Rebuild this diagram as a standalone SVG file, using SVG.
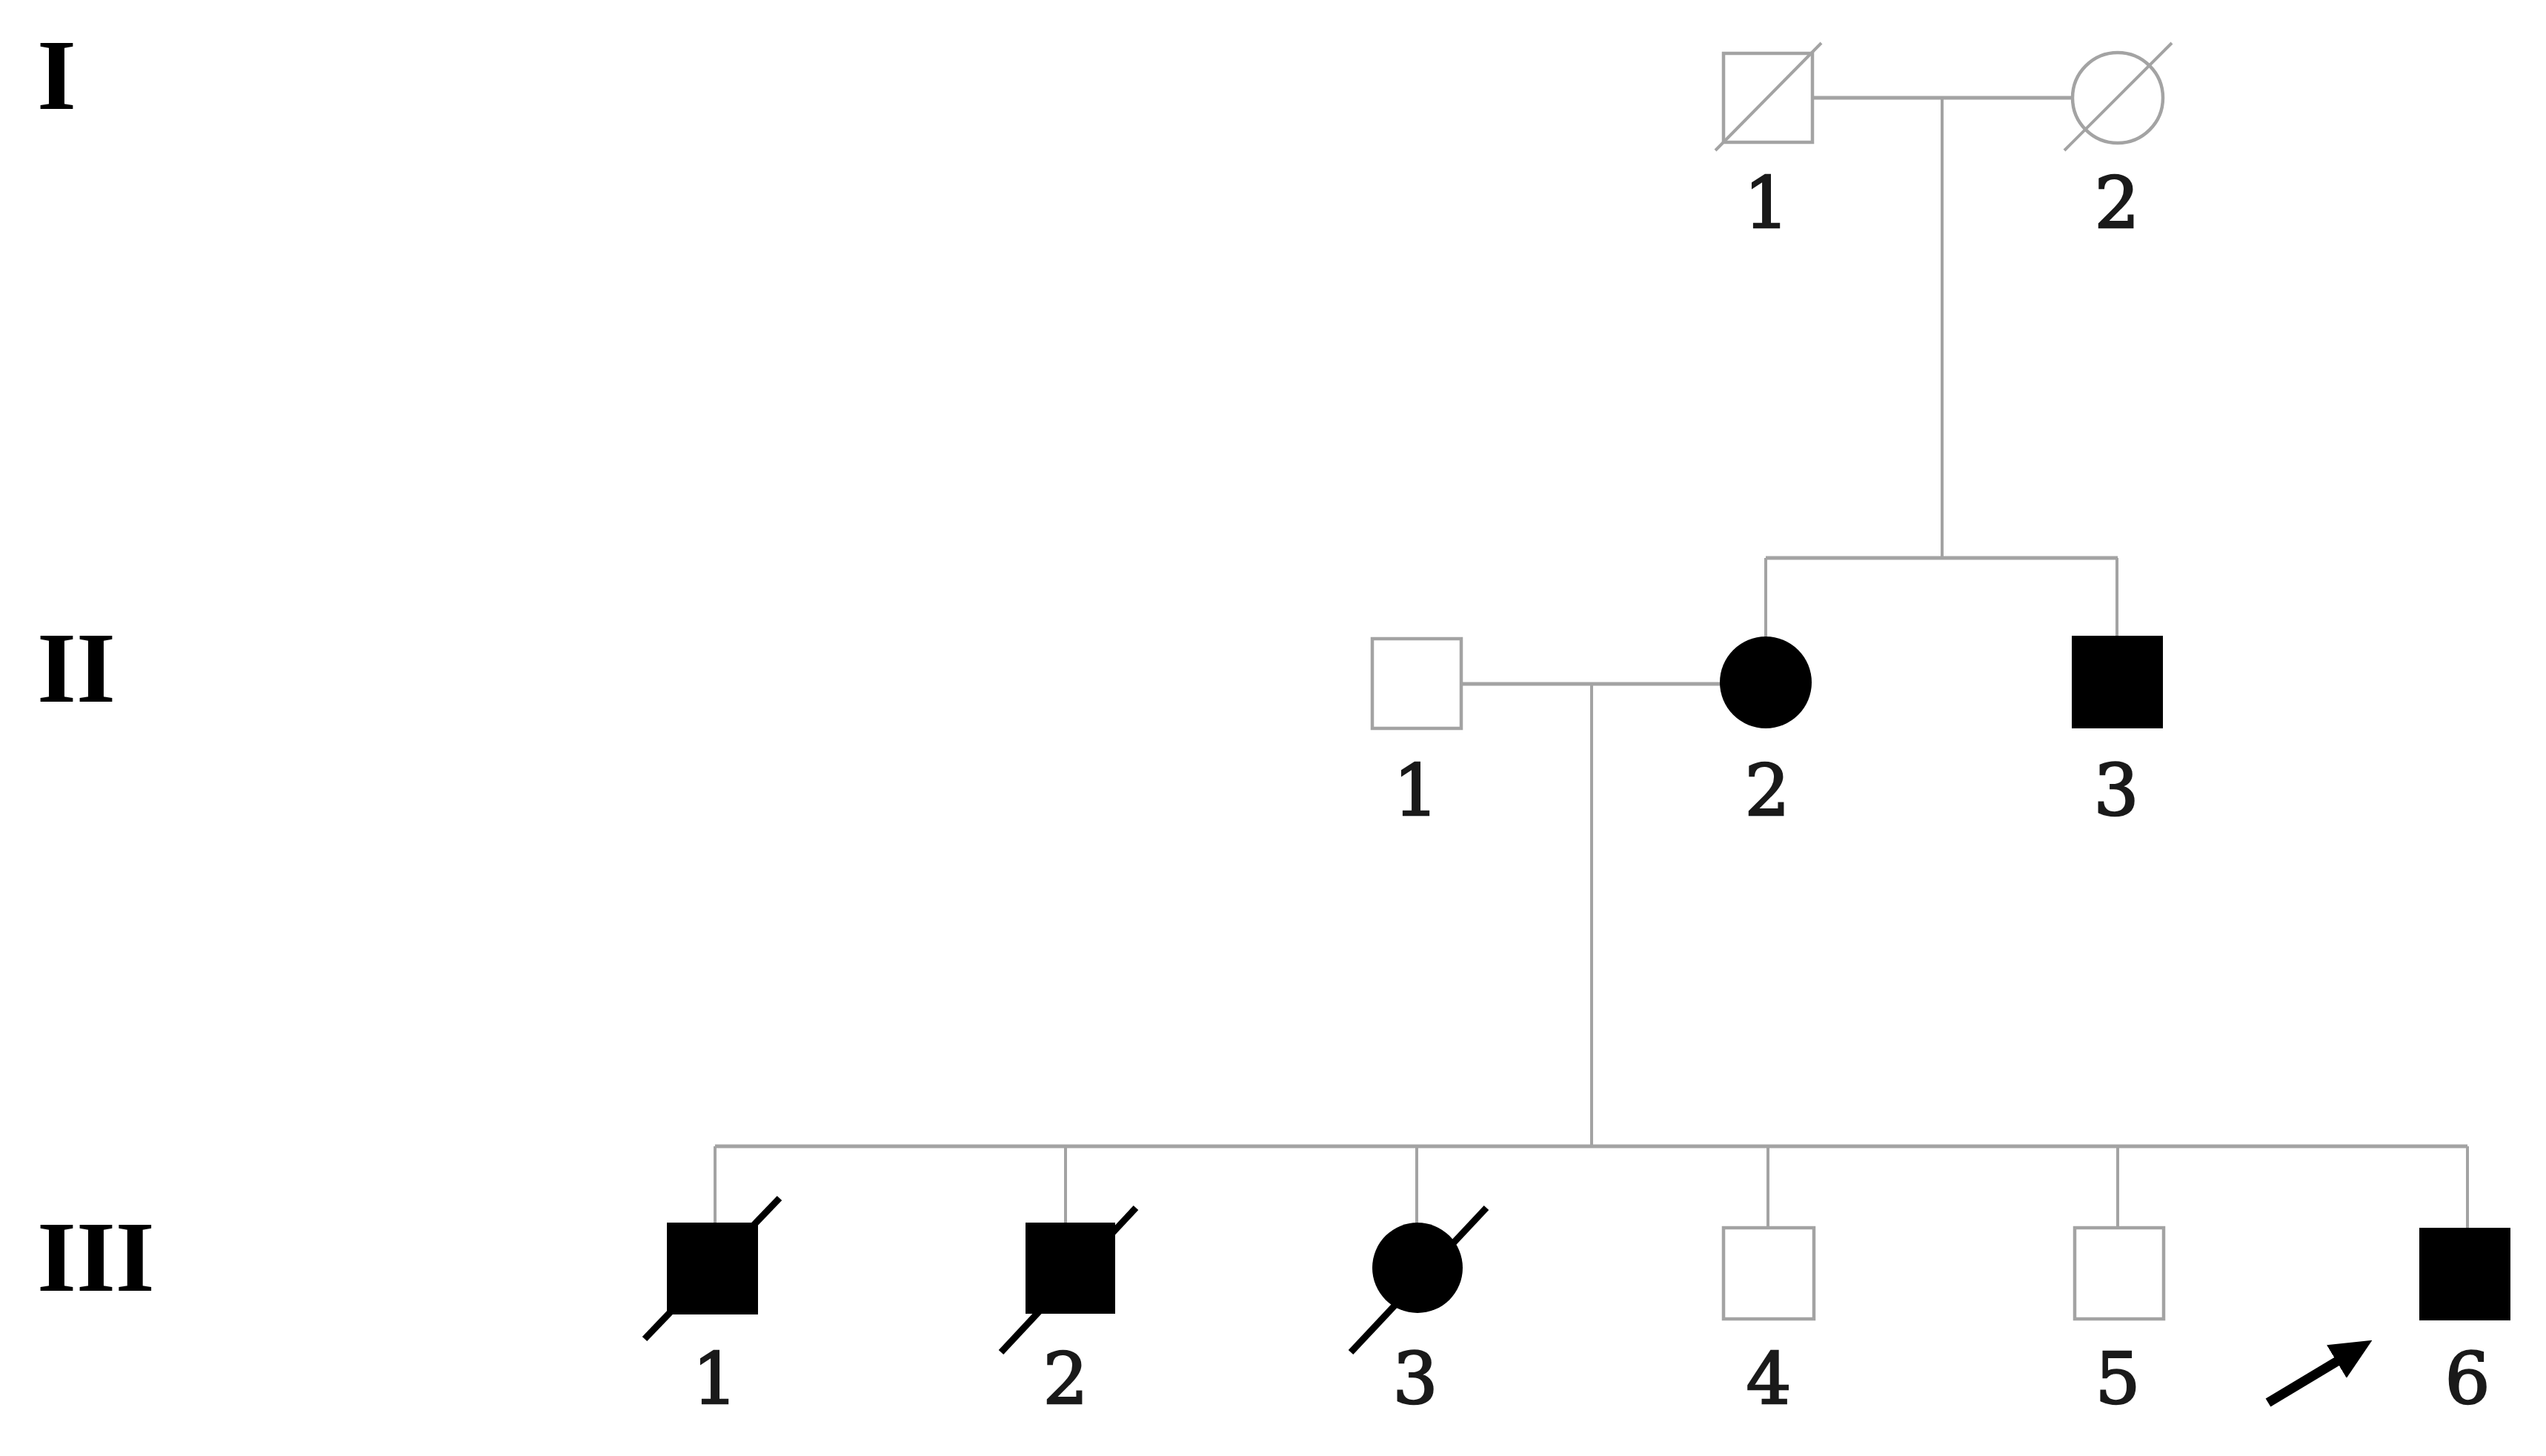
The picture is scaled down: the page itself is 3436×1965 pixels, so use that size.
<svg xmlns="http://www.w3.org/2000/svg" width="3436" height="1965" viewBox="0 0 3436 1965">
  <style>
    .line { stroke: #a3a3a3; stroke-width: 5; fill: none; }
    .drop { stroke: #a3a3a3; stroke-width: 4; fill: none; }
    .open { fill: #ffffff; stroke: #a3a3a3; stroke-width: 4.5; }
    .filled { fill: #000000; stroke: none; }
    .dead-gray { stroke: #a3a3a3; stroke-width: 4; }
    .dead-black { stroke: #000000; stroke-width: 9; }
    .num { font-family: "DejaVu Serif", "Liberation Serif", serif; font-size: 96px; fill: #1a1a1a; stroke: #1a1a1a; stroke-width: 2.5; text-anchor: middle; }
    .gen { font-family: "Liberation Serif", "DejaVu Serif", serif; font-size: 136px; font-weight: bold; fill: #000000; }
  </style>
  <defs>
    <marker id="arrowhead" markerUnits="userSpaceOnUse" viewBox="0 0 56 52" refX="3" refY="26" markerWidth="56" markerHeight="52" orient="auto">
      <path d="M0,0 L56,26 L0,52 Z" fill="#000000"/>
    </marker>
  </defs>
  <rect x="0" y="0" width="3436" height="1965" fill="#ffffff"/>

  <g id="generation-labels">
    <text class="gen" x="50" y="147">I</text>
    <text class="gen" x="50" y="947">II</text>
    <text class="gen" x="50" y="1742">III</text>
  </g>

  <g id="connectors">
    <line class="line" x1="2446" y1="132" x2="2797" y2="132"/>
    <line class="drop" x1="2621" y1="132" x2="2621" y2="753"/>
    <line class="line" x1="2383" y1="753" x2="2858" y2="753"/>
    <line class="drop" x1="2383" y1="753" x2="2383" y2="860"/>
    <line class="drop" x1="2857" y1="753" x2="2857" y2="860"/>
    <line class="line" x1="1972" y1="923" x2="2322" y2="923"/>
    <line class="drop" x1="2148" y1="923" x2="2148" y2="1547"/>
    <line class="line" x1="965" y1="1547" x2="3330" y2="1547"/>
    <line class="drop" x1="965" y1="1547" x2="965" y2="1652"/>
    <line class="drop" x1="1438" y1="1547" x2="1438" y2="1652"/>
    <line class="drop" x1="1912" y1="1547" x2="1912" y2="1652"/>
    <line class="drop" x1="2386" y1="1547" x2="2386" y2="1657"/>
    <line class="drop" x1="2858" y1="1547" x2="2858" y2="1657"/>
    <line class="drop" x1="3330" y1="1547" x2="3330" y2="1657"/>
  </g>

  <g id="I-1">
    <rect class="open" x="2326" y="72" width="120" height="120"/>
    <line class="dead-gray" x1="2315" y1="203" x2="2458" y2="58"/>
    <text class="num" x="2384" y="307">1</text>
  </g>
  <g id="I-2">
    <circle class="open" cx="2858" cy="132" r="61"/>
    <line class="dead-gray" x1="2786" y1="203" x2="2931" y2="58"/>
    <text class="num" x="2857" y="307">2</text>
  </g>

  <g id="II-1">
    <rect class="open" x="1852" y="862" width="120" height="121"/>
    <text class="num" x="1911" y="1100">1</text>
  </g>
  <g id="II-2">
    <circle class="filled" cx="2383" cy="921" r="62"/>
    <text class="num" x="2385" y="1100">2</text>
  </g>
  <g id="II-3">
    <rect class="filled" x="2796" y="858" width="123" height="125"/>
    <text class="num" x="2856" y="1100">3</text>
  </g>

  <g id="III-1">
    <line class="dead-black" x1="870" y1="1807" x2="1052" y2="1617"/>
    <rect class="filled" x="900" y="1650" width="123" height="124"/>
    <text class="num" x="965" y="1894">1</text>
  </g>
  <g id="III-2">
    <line class="dead-black" x1="1351" y1="1825" x2="1533" y2="1630"/>
    <rect class="filled" x="1384" y="1650" width="121" height="123"/>
    <text class="num" x="1438" y="1894">2</text>
  </g>
  <g id="III-3">
    <line class="dead-black" x1="1823" y1="1825" x2="2006" y2="1630"/>
    <ellipse class="filled" cx="1913" cy="1711" rx="61" ry="61"/>
    <text class="num" x="1910" y="1894">3</text>
  </g>
  <g id="III-4">
    <rect class="open" x="2326" y="1657" width="122" height="123"/>
    <text class="num" x="2387" y="1894">4</text>
  </g>
  <g id="III-5">
    <rect class="open" x="2800" y="1657" width="120" height="123"/>
    <text class="num" x="2858" y="1894">5</text>
  </g>
  <g id="III-6">
    <rect class="filled" x="3265" y="1657" width="123" height="125"/>
    <text class="num" x="3330" y="1894">6</text>
  </g>

  <g id="proband-arrow">
    <line x1="3061" y1="1893" x2="3156" y2="1836" stroke="#000000" stroke-width="13" marker-end="url(#arrowhead)"/>
  </g>
</svg>
